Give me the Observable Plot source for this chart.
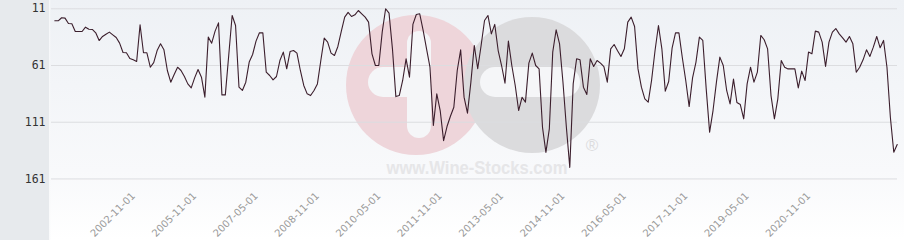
<!DOCTYPE html>
<html><head><meta charset="utf-8">
<script src="https://cdn.jsdelivr.net/npm/d3@7"></script>
<script src="https://cdn.jsdelivr.net/npm/@observablehq/plot@0.6"></script>
<style>
html,body{margin:0;padding:0;background:#fff;}
#wrap{position:relative;width:904px;height:240px;overflow:hidden;
 background: linear-gradient(to right,#e7eaed 0,#e7eaed 49px,#f8f9fa 49px,rgba(255,255,255,0) 51px),
             linear-gradient(to bottom,#eef1f5 0,#f8f9fb 170px,#ffffff 240px);}
#wm,#chart{position:absolute;left:0;top:0;}
</style></head><body>
<div id="wrap">
<svg id="wm" width="904" height="240">
  <circle cx="416" cy="85" r="70" fill="#eed5da"/>
  <circle cx="532" cy="85" r="68" fill="#dbdbdd"/>
  <rect x="368" y="67" width="62" height="30" rx="15" fill="#f5f6f8"/>
  <rect x="407" y="31" width="24" height="107" rx="12" fill="#f5f6f8"/>
  <rect x="480" y="67" width="100" height="30" rx="15" fill="#f5f6f8"/>
  <text x="477" y="174" text-anchor="middle" font-family="Liberation Sans" font-weight="bold" font-size="19" fill="#e6e6e8" textLength="181" lengthAdjust="spacingAndGlyphs">www.Wine-Stocks.com</text>
  <text x="592" y="151" text-anchor="middle" font-size="17" fill="#dcdcde" font-family="Liberation Sans">®</text>
</svg>
<div id="chart"></div>
</div>
<script>
const values = [
21.6,21.6,18.9,19.2,24,24.2,31,31,31,27.2,
29,29.2,32.2,39,35.4,33.4,31.6,34,36.3,41.3,
49.5,49.8,54.8,56,57.5,25.1,49.8,49.8,62.5,58.4,
47.8,41.9,47.2,65.4,75.7,68.9,62.5,65.4,70.7,77.2,
80.7,71.9,64.5,71.3,88.9,36,41.3,30.7,23.4,86.9,
86.9,51.9,16.9,25.7,80,83,75.7,58,51.3,39.5,
32.2,32.2,66.9,69.8,73.6,70.7,56.6,49.2,63.9,48.6,
47.8,50.1,65.4,78.6,86,87.5,83,77.2,56.6,36.9,
40.4,50.1,52.2,44.2,31,18.4,14.2,17.8,16.3,12.5,
15.4,18.4,22.8,50.7,61,61,31.6,11,14.8,46.3,
88.4,87.5,74.2,55.1,71.3,24.8,16,15.4,30.1,46.3,
62.5,113.9,86,100.7,127.2,114.8,105.7,97.8,65.4,47.2,
88.9,103,75.7,43.4,63.9,43.4,21.3,16.9,33.1,24.8,
47.8,61,76.6,39.5,61,78.6,100.7,89,93.3,58.9,
50.1,61,64,115.5,137.6,116.9,49.2,29.5,41.9,75.7,
115.5,150.8,77.2,55.1,56,80.1,86.6,55.1,61.9,56.6,
58.9,61.9,75.7,46.3,42.5,48,53,46.3,22.8,18.4,
26.6,64,80.1,90.4,93.3,73.6,47.8,25.7,46.3,83.6,
75.1,45.7,32.2,32.2,54.2,74.2,97.2,71.9,58,36,
38.9,81.6,119.8,100.7,75.7,53.6,61,83,94.8,73,
93.6,95.4,108,77.2,62.5,75.7,66.9,34.5,38.3,46.3,
87.5,108,90.4,56.6,62.5,64,64,64,80.7,66,
74.2,49.2,50.7,30.7,31.6,40.4,61.9,40.4,31.6,28.4,
33.1,36.6,40.4,35.4,41.9,66.9,62.5,56,47.2,53,
44.8,35.4,45.4,38.9,62.5,106.6,137.5,130.7
];
const tickIndex = [24,42,60,78,96,114,132,150,168,186,204,222];
const tickLabels = ["2002-11-01","2005-11-01","2007-05-01","2008-11-01","2010-05-01","2011-11-01","2013-05-01","2014-11-01","2016-05-01","2017-11-01","2019-05-01","2020-11-01"];
const yTickValues = [11,61,111,161];
const yTickLabels = ["11","61","111","161"];

const data = values.map((v, i) => ({i, v}));
const xTicks = tickIndex.map((i, k) => ({i, label: tickLabels[k]}));
const yTicks = yTickValues.map((v, k) => ({v, label: yTickLabels[k]}));

const chart = Plot.plot({
  width: 904, height: 240,
  marginLeft: 51, marginRight: 7, marginTop: 0, marginBottom: 40,
  style: {background: "transparent", overflow: "visible"},
  x: {domain: [-0.97, 247.09], axis: null},
  y: {domain: [3.7, 180], reverse: true, axis: null},
  marks: [
    Plot.ruleY(yTicks, {y: "v", stroke: "#dcdde0", strokeWidth: 1}),
    Plot.text(yTicks, {y: "v", text: "label", frameAnchor: "left", dx: -6, textAnchor: "end",
      fill: "#333", fontSize: 11.5, fontFamily: "DejaVu Sans Mono"}),
    Plot.lineY(data, {x: "i", y: "v", stroke: "#3b1e2c", strokeWidth: 1.1}),
    Plot.text(xTicks, {x: "i", text: "label", frameAnchor: "bottom", dy: -4, dx: -1,
      rotate: -45, textAnchor: "end", fill: "#9a9a9a", fontSize: 10, fontFamily: "DejaVu Sans"})
  ]
});
document.getElementById("chart").appendChild(chart);
</script>
</body></html>
